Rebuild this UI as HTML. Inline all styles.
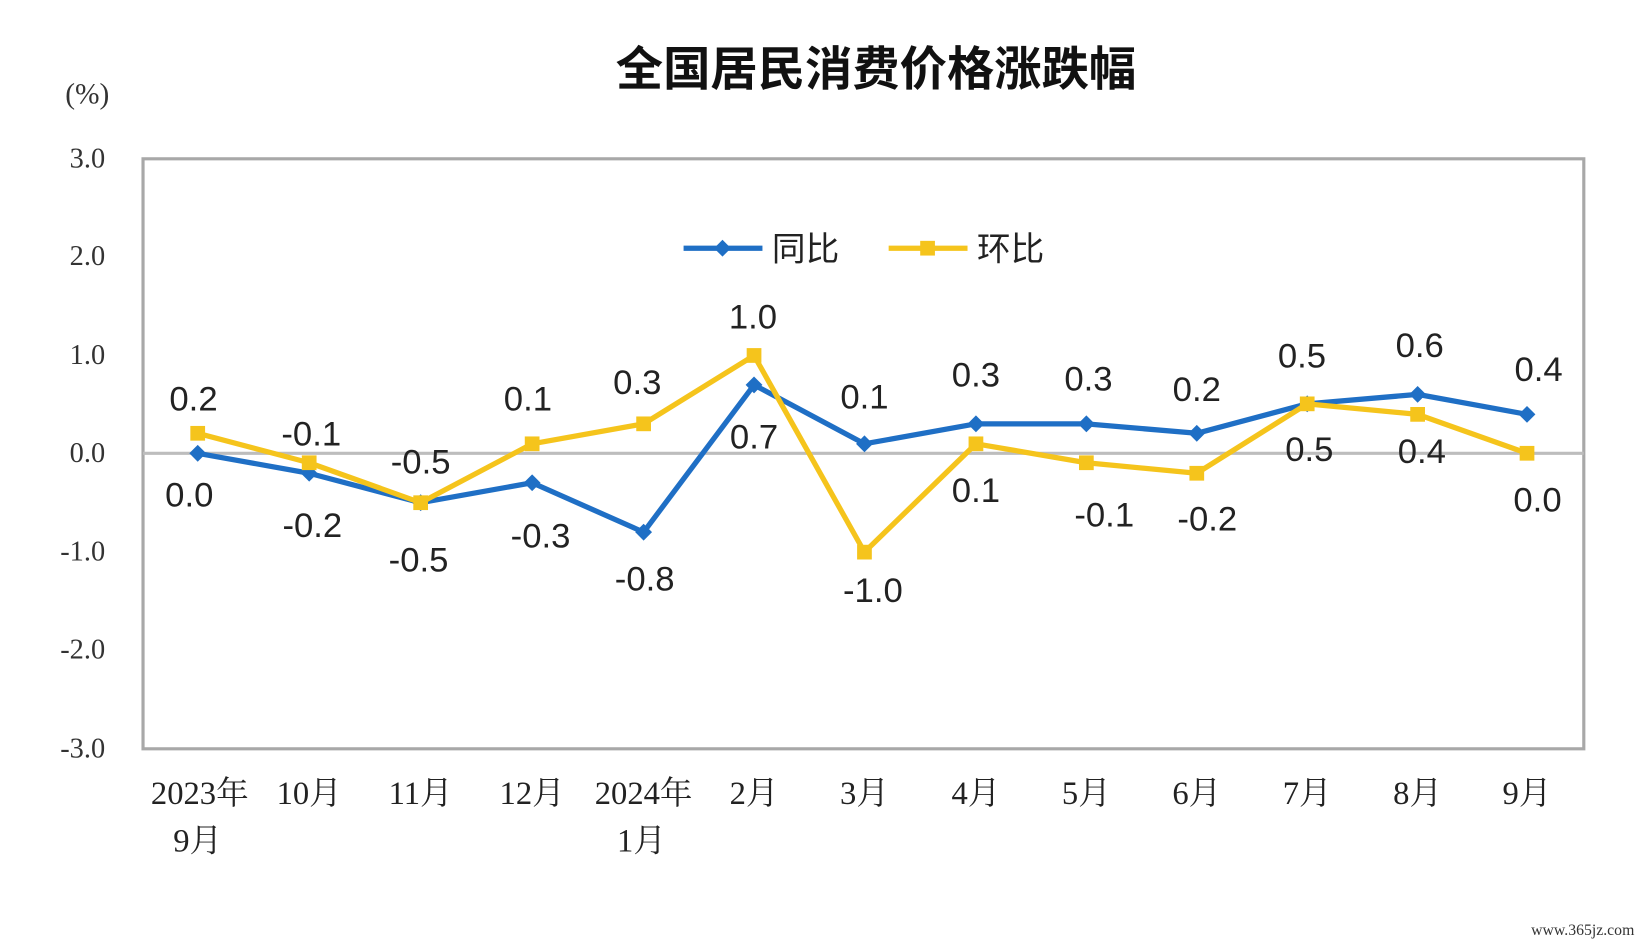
<!DOCTYPE html>
<html><head><meta charset="utf-8"><style>
html,body{margin:0;padding:0;background:#fff;width:1649px;height:946px;overflow:hidden}
svg{display:block}
.t{font-family:"Liberation Sans","Noto Sans CJK SC",sans-serif;font-size:33px;fill:#222;text-anchor:middle;dominant-baseline:central}
.y{font-family:"Liberation Serif",serif;font-size:27px;fill:#333;text-anchor:end;dominant-baseline:central}
.x{font-family:"Liberation Serif","Noto Serif CJK SC",serif;font-size:31px;fill:#222;text-anchor:middle;dominant-baseline:central}
</style></head><body>
<svg width="1649" height="946" viewBox="0 0 1568 899.5" preserveAspectRatio="none">
<text x="833" y="62" text-anchor="middle" dominant-baseline="central" font-family="'Noto Sans CJK SC',sans-serif" font-size="45" font-weight="bold" fill="#111">全国居民消费价格涨跌幅</text>
<text x="83" y="90" text-anchor="middle" dominant-baseline="central" font-family="'Liberation Serif',serif" font-size="28" fill="#333">(%)</text>
<rect x="136" y="151" width="1370" height="561" fill="none" stroke="#a8a8a8" stroke-width="3"/>
<line x1="136" y1="431" x2="1506" y2="431" stroke="#bdbdbd" stroke-width="3"/>
<g class="y">
<text x="100" y="151">3.0</text><text x="100" y="244">2.0</text><text x="100" y="338">1.0</text><text x="100" y="431">0.0</text><text x="100" y="525">-1.0</text><text x="100" y="618">-2.0</text><text x="100" y="712">-3.0</text>
</g>
<g class="x">
<text x="190" y="755">2023年</text><text x="188" y="800">9月</text>
<text x="294" y="755">10月</text><text x="400" y="755">11月</text><text x="506" y="755">12月</text>
<text x="612" y="755">2024年</text><text x="610" y="800">1月</text>
<text x="717" y="755">2月</text><text x="822" y="755">3月</text><text x="928" y="755">4月</text><text x="1033" y="755">5月</text><text x="1138" y="755">6月</text><text x="1243" y="755">7月</text><text x="1348" y="755">8月</text><text x="1452" y="755">9月</text>
</g>
<polyline fill="none" stroke="#1f6fc5" stroke-width="5" stroke-linejoin="round" points="188,431 294,450 400,478 506,459 612,506 717,366 822,422 928,403 1033,403 1138,412 1243,384 1348,375 1452,394"/>
<g fill="#1f6fc5">
<path d="M188,423 l8,8 -8,8 -8,-8z"/><path d="M294,442 l8,8 -8,8 -8,-8z"/><path d="M400,470 l8,8 -8,8 -8,-8z"/><path d="M506,451 l8,8 -8,8 -8,-8z"/><path d="M612,498 l8,8 -8,8 -8,-8z"/><path d="M717,358 l8,8 -8,8 -8,-8z"/><path d="M822,414 l8,8 -8,8 -8,-8z"/><path d="M928,395 l8,8 -8,8 -8,-8z"/><path d="M1033,395 l8,8 -8,8 -8,-8z"/><path d="M1138,404 l8,8 -8,8 -8,-8z"/><path d="M1243,376 l8,8 -8,8 -8,-8z"/><path d="M1348,367 l8,8 -8,8 -8,-8z"/><path d="M1452,386 l8,8 -8,8 -8,-8z"/>
</g>
<polyline fill="none" stroke="#f5c41c" stroke-width="5" stroke-linejoin="round" points="188,412 294,440 400,478 506,422 612,403 717,338 822,525 928,422 1033,440 1138,450 1243,384 1348,394 1452,431"/>
<g fill="#f5c41c">
<rect x="181" y="405" width="14" height="14"/><rect x="287" y="433" width="14" height="14"/><rect x="393" y="471" width="14" height="14"/><rect x="499" y="415" width="14" height="14"/><rect x="605" y="396" width="14" height="14"/><rect x="710" y="331" width="14" height="14"/><rect x="815" y="518" width="14" height="14"/><rect x="921" y="415" width="14" height="14"/><rect x="1026" y="433" width="14" height="14"/><rect x="1131" y="443" width="14" height="14"/><rect x="1236" y="377" width="14" height="14"/><rect x="1341" y="387" width="14" height="14"/><rect x="1445" y="424" width="14" height="14"/>
</g>
<line x1="650" y1="236" x2="725" y2="236" stroke="#1f6fc5" stroke-width="5"/><path d="M687,228 l8,8 -8,8 -8,-8z" fill="#1f6fc5"/>
<text x="766" y="234" text-anchor="middle" dominant-baseline="central" font-family="'Noto Sans CJK SC',sans-serif" font-size="32" fill="#222">同比</text>
<line x1="845" y1="236" x2="920" y2="236" stroke="#f5c41c" stroke-width="5"/><rect x="875" y="229" width="14" height="14" fill="#f5c41c"/>
<text x="961" y="234" text-anchor="middle" dominant-baseline="central" font-family="'Noto Sans CJK SC',sans-serif" font-size="32" fill="#222">环比</text>
<g class="t">
<text x="180" y="471">0.0</text><text x="297" y="500">-0.2</text><text x="398" y="533">-0.5</text><text x="514" y="510">-0.3</text><text x="613" y="551">-0.8</text><text x="717" y="416">0.7</text><text x="822" y="378">0.1</text><text x="928" y="357">0.3</text><text x="1035" y="361">0.3</text><text x="1138" y="371">0.2</text><text x="1238" y="339">0.5</text><text x="1350" y="329">0.6</text><text x="1463" y="352">0.4</text>
<text x="184" y="380">0.2</text><text x="296" y="413">-0.1</text><text x="400" y="440">-0.5</text><text x="502" y="380">0.1</text><text x="606" y="364">0.3</text><text x="716" y="302">1.0</text><text x="830" y="562">-1.0</text><text x="928" y="467">0.1</text><text x="1050" y="490">-0.1</text><text x="1148" y="494">-0.2</text><text x="1245" y="428">0.5</text><text x="1352" y="430">0.4</text><text x="1462" y="476">0.0</text>
</g>
<text x="1505" y="885" text-anchor="middle" dominant-baseline="central" font-family="'Liberation Serif',serif" font-size="15" fill="#333">www.365jz.com</text>
</svg>
</body></html>
